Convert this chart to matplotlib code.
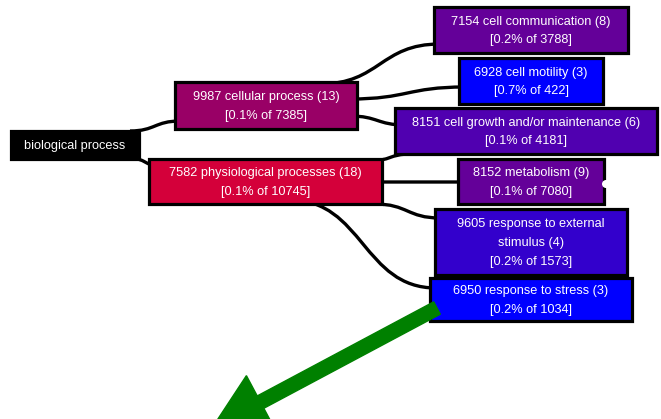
import matplotlib.pyplot as plt
from matplotlib.patches import Rectangle, PathPatch, FancyArrow, Circle
from matplotlib.path import Path

# GO terms shown in the tree
go_ids = [None, 9987, 7582, 7154, 6928, 8151, 8152, 9605, 6950]
terms = ['biological process', 'cellular process', 'physiological processes',
         'cell communication', 'cell motility', 'cell growth and/or maintenance',
         'metabolism', 'response to external\nstimulus', 'response to stress']
counts = [None, 13, 18, 8, 3, 6, 9, 4, 3]
pct = [None, 0.1, 0.1, 0.2, 0.7, 0.1, 0.1, 0.2, 0.2]
totals = [None, 7385, 10745, 3788, 422, 4181, 7080, 1573, 1034]

# layout (pixels): x0, y0, x1, y1
boxes = [(11, 131, 139, 159), (175, 82, 357, 129), (149, 159, 382, 204),
         (434, 7, 628, 53), (459, 58, 603, 104), (395, 108, 657, 154),
         (458, 159, 604, 204), (435, 209, 627, 275), (430, 278, 632, 321)]
colors = ['#000000', '#990066', '#D4003A', '#640099', '#0000FF', '#5000B0',
          '#640099', '#3300CC', '#0000FF']

# edge endpoints (start, end) in pixels
edges = [((130, 131), (180, 121)), ((130, 158), (160, 166)),
         ((320, 84), (440, 44)), ((350, 99), (465, 87)), ((350, 116), (405, 125)),
         ((370, 161), (410, 154)), ((375, 182), (465, 182)),
         ((375, 204), (440, 218)), ((290, 200), (436, 288))]

fig = plt.figure(figsize=(6.61, 4.19), dpi=100)
ax = fig.add_axes([0, 0, 1, 1])
ax.set_xlim(0, 661)
ax.set_ylim(419, 0)
ax.axis('off')

for (x0, y0), (x1, y1) in edges:
    mx = (x0 + x1) / 2
    p = Path([(x0, y0), (mx, y0), (mx, y1), (x1, y1)],
             [Path.MOVETO, Path.CURVE4, Path.CURVE4, Path.CURVE4])
    ax.add_patch(PathPatch(p, fc='none', ec='black', lw=2.4, zorder=1))

for i, (x0, y0, x1, y1) in enumerate(boxes):
    ax.add_patch(Rectangle((x0, y0), x1 - x0, y1 - y0, fc=colors[i],
                           ec='black', lw=2.3, zorder=2))
    if go_ids[i] is None:
        label = terms[i]
    else:
        label = f'{go_ids[i]} {terms[i]} ({counts[i]})\n[{pct[i]}% of {totals[i]}]'
    ax.text((x0 + x1) / 2, (y0 + y1) / 2 + 1, label, color='white',
            ha='center', va='center', fontsize=9.2, family='Liberation Sans',
            linespacing=1.75, zorder=3)

# little notch on the metabolism box
ax.add_patch(Circle((606, 184), 4, fc='white', ec='none', zorder=3))

# green arrow pointing down-left from the stress term
ax.add_patch(FancyArrow(437, 308, -225, 120, width=14, head_width=60,
                        head_length=55, length_includes_head=True,
                        color='#008000', zorder=4))

fig.savefig('out.png', dpi=100)
